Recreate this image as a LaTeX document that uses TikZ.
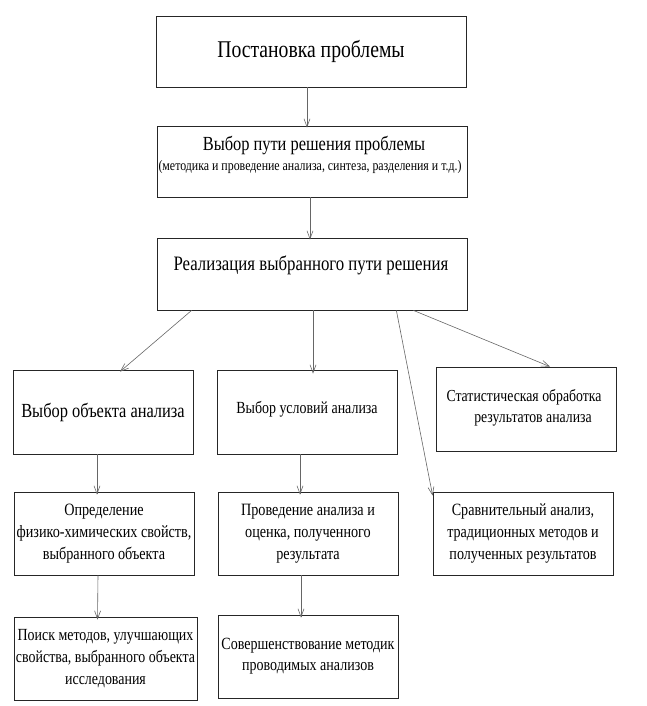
\documentclass[tikz,border=0pt]{standalone}
\usepackage{fontspec}
\setmainfont{Liberation Serif}[FakeStretch=0.82]
\usetikzlibrary{arrows.meta}
\begin{document}
\begin{tikzpicture}[x=1pt,y=-1pt,
  box/.style={draw=black!85,line width=0.7pt,inner sep=2pt,align=center},
  arr/.style={draw=black!60,line width=0.6pt,-{Straight Barb[length=8pt,width=6pt]}}]
\useasboundingbox (0,0) rectangle (646,706);
\node[box,minimum width=310pt,minimum height=71pt,font=\fontsize{24}{28}\selectfont] (b1) at (311,51.5) {Постановка проблемы};
\node[box,minimum width=310pt,minimum height=71pt] (b2) at (312,161.5) {};
\node[font=\fontsize{20}{24}\selectfont] (b2a) at (314,145) {Выбор пути решения проблемы};
\node[font=\fontsize{14.5}{16}\selectfont] (b2b) at (310,167) {(методика и проведение анализа, синтеза, разделения и т.д.)};
\node[box,minimum width=310pt,minimum height=72pt] (b3) at (312,274) {};
\node[font=\fontsize{20.5}{26}\selectfont] (b3a) at (311,265) {Реализация выбранного пути решения};
\node[box,minimum width=180pt,minimum height=84pt,font=\fontsize{20}{24}\selectfont] (b4) at (103,412) {Выбор объекта анализа};
\node[box,minimum width=180pt,minimum height=84pt] (b5) at (307,412) {};
\node[font=\fontsize{17}{20}\selectfont] (b5a) at (307,409) {Выбор условий анализа};
\node[box,minimum width=180pt,minimum height=84pt] (b6) at (526,409) {};
\node[font=\fontsize{16.8}{21}\selectfont,align=center] (b6a) at (524,408) {Статистическая обработка\\ \hspace*{18pt}результатов анализа};
\node[box,minimum width=180pt,minimum height=83pt,font=\fontsize{17.3}{22}\selectfont] (b7) at (104,533.5) {Определение\\физико-химических свойств,\\выбранного объекта};
\node[box,minimum width=180pt,minimum height=83pt,font=\fontsize{17.3}{22}\selectfont] (b8) at (308,533.5) {Проведение анализа и\\оценка, полученного\\результата};
\node[box,minimum width=180pt,minimum height=83pt,font=\fontsize{17.2}{22}\selectfont] (b9) at (523,533.5) {Сравнительный анализ,\\традиционных методов и\\полученных результатов};
\node[box,minimum width=181pt,minimum height=83pt,font=\fontsize{17}{22}\selectfont] (b10) at (105.5,658.5) {Поиск методов, улучшающих\\свойства, выбранного объекта\\исследования};
\node[box,minimum width=180pt,minimum height=83pt,font=\fontsize{17.1}{21}\selectfont] (b11) at (308,656.5) {Совершенствование методик\\проводимых анализов};
\draw[arr] ([xshift=-4pt]b1.south) -- ([xshift=-5pt,yshift=-2pt]b2.north);
\draw[arr] ([xshift=-2pt]b2.south) -- ([xshift=-2pt,yshift=-2pt]b3.north);
\draw[arr] ([xshift=35pt]b3.south west) -- ([xshift=17pt,yshift=-2pt]b4.north);
\draw[arr] ([xshift=1pt]b3.south) -- ([xshift=6pt,yshift=-4pt]b5.north);
\draw[arr] ([xshift=-71pt]b3.south east) -- ([yshift=-4pt]b9.north west);
\draw[arr] ([xshift=-54pt]b3.south east) -- ([xshift=24pt]b6.north);
\draw[arr] ([xshift=-6pt]b4.south) -- ([xshift=-7pt,yshift=-3pt]b7.north);
\draw[arr] ([xshift=-7pt]b5.south) -- ([xshift=-8pt,yshift=-3pt]b8.north);
\draw[arr] ([xshift=-6pt]b7.south) -- ([xshift=-8pt,yshift=-3pt]b10.north);
\draw[arr] ([xshift=-7pt]b8.south) -- ([xshift=-7pt,yshift=-3pt]b11.north);
\end{tikzpicture}
\end{document}
